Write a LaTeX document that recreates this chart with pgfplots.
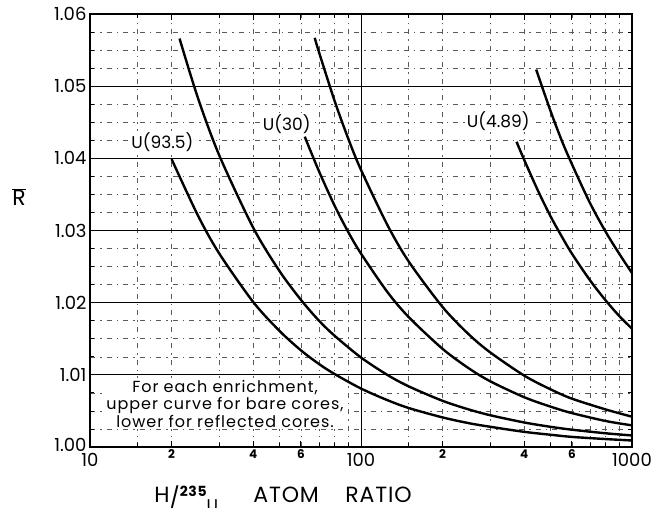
\documentclass[border=0pt]{standalone}
\usepackage{pgfplots}
\pgfplotsset{compat=1.18}
\usepackage{fontspec}
\setmainfont{Poppins}

% curve data: x = H/235U atom ratio, y = R-bar
% U(93.5), bare core
\pgfplotstableread{
x y
21.4 1.0566
25 1.0484
30 1.0404
40 1.0304
50 1.0244
60 1.0204
70 1.0175
80 1.0154
100 1.0124
125 1.0100
150 1.0084
200 1.0064
250 1.0052
300 1.0044
400 1.0034
500 1.0028
600 1.0024
800 1.0019
1000 1.0016
}\uhighbare
% U(93.5), reflected core
\pgfplotstableread{
x y
20 1.0399
25 1.0321
30 1.0268
40 1.0201
50 1.0161
60 1.0134
70 1.0115
80 1.0101
100 1.0081
125 1.0065
150 1.0054
200 1.0041
250 1.0033
300 1.0028
400 1.0021
500 1.0017
600 1.0014
800 1.0011
1000 1.0009
}\uhighrefl
% U(30), bare core
\pgfplotstableread{
x y
67.5 1.0567
70 1.0547
80 1.0479
90 1.0426
100 1.0384
125 1.0308
150 1.0257
200 1.0194
250 1.0156
300 1.0131
400 1.0099
500 1.0080
600 1.0067
800 1.0052
1000 1.0042
}\umidbare
% U(30), reflected core
\pgfplotstableread{
x y
62 1.0430
70 1.0382
80 1.0334
90 1.0297
100 1.0268
125 1.0215
150 1.0180
200 1.0136
250 1.0109
300 1.0091
400 1.0069
500 1.0056
600 1.0047
800 1.0036
1000 1.0030
}\umidrefl
% U(4.89), bare core
\pgfplotstableread{
x y
443 1.0523
500 1.0466
550 1.0425
600 1.0392
700 1.0338
800 1.0298
900 1.0267
1000 1.0241
}\ulowbare
% U(4.89), reflected core
\pgfplotstableread{
x y
375 1.0423
400 1.0398
450 1.0355
500 1.0320
550 1.0292
600 1.0268
700 1.0231
800 1.0203
900 1.0181
1000 1.0164
}\ulowrefl

\begin{document}
\begin{tikzpicture}
\useasboundingbox (-90pt,-60pt) rectangle (568pt,447pt);
\begin{axis}[
  at={(0,0)}, anchor=south west,
  scale only axis, width=542pt, height=433pt,
  xmode=log, log basis x=10,
  xmin=10, xmax=1000, ymin=1.00, ymax=1.06,
  xtick={10,100,1000}, xticklabels={10,100,1000},
  x tick label style={yshift=-3pt},
  extra x ticks={20,40,60,200,400,600},
  extra x tick labels={2,4,6,2,4,6},
  extra x tick style={grid=none,
    tick label style={font=\bfseries\fontsize{12}{12}\selectfont, yshift=4pt}},
  minor xtick={15,20,30,40,50,60,70,80,90,150,200,300,400,500,600,700,800,900},
  ytick={1.00,1.01,1.02,1.03,1.04,1.05,1.06},
  yticklabels={\raisebox{5pt}{1.00},1.01,1.02,1.03,1.04,1.05,1.06},
  minor y tick num=3,
  tick label style={font=\fontsize{18}{18}\selectfont},
  tick align=inside,
  major tick length=6pt, minor tick length=4pt,
  tick style={black, line width=0.8pt},
  axis line style={line width=1.6pt},
  grid=both,
  major grid style={black, line width=1pt},
  minor grid style={black!65, line width=0.55pt, dash pattern=on 5pt off 5pt on 1.5pt off 5pt},
]
% labels first, so that the curves are drawn over their white boxes
\node[font=\fontsize{17}{17}\selectfont, fill=white, inner sep=1pt] at (axis cs:18.5,1.0423) {U(93.5)};
\node[font=\fontsize{17}{17}\selectfont, fill=white, inner sep=1pt] at (axis cs:53.2,1.0448) {U(30)};
\node[font=\fontsize{17}{17}\selectfont, fill=white, inner sep=1pt] at (axis cs:321,1.0451) {U(4.89)};
\node[font=\fontsize{16}{17.5}\selectfont\addfontfeature{LetterSpace=6}, align=center, anchor=north, fill=white, inner sep=2pt]
  at (axis cs:31.5,1.0096) {For each enrichment,\\upper curve for bare cores,\\lower for reflected cores.};

\addplot[black, line width=2.4pt, smooth] table {\uhighbare};
\addplot[black, line width=2.4pt, smooth] table {\uhighrefl};
\addplot[black, line width=2.4pt, smooth] table {\umidbare};
\addplot[black, line width=2.4pt, smooth] table {\umidrefl};
\addplot[black, line width=2.4pt, smooth] table {\ulowbare};
\addplot[black, line width=2.4pt, smooth] table {\ulowrefl};

\coordinate (yl) at (rel axis cs:0,0.577);
\coordinate (xl) at (rel axis cs:0.356,0);
\end{axis}
\node[font=\fontsize{22}{22}\selectfont] at ([xshift=-71pt]yl) {$\overline{\mbox{R}}$};
\node[font=\fontsize{22}{22}\selectfont\addfontfeature{LetterSpace=4}, anchor=base] at ([yshift=-55pt]xl)
  {H\raisebox{-0.35ex}{/}\raisebox{0.45ex}{\bfseries\fontsize{14}{14}\selectfont 235}\raisebox{-0.75ex}{\fontsize{17}{17}\selectfont U}\hspace{1.6em}ATOM\hspace{1.2em}RATIO};
\end{tikzpicture}
\end{document}
